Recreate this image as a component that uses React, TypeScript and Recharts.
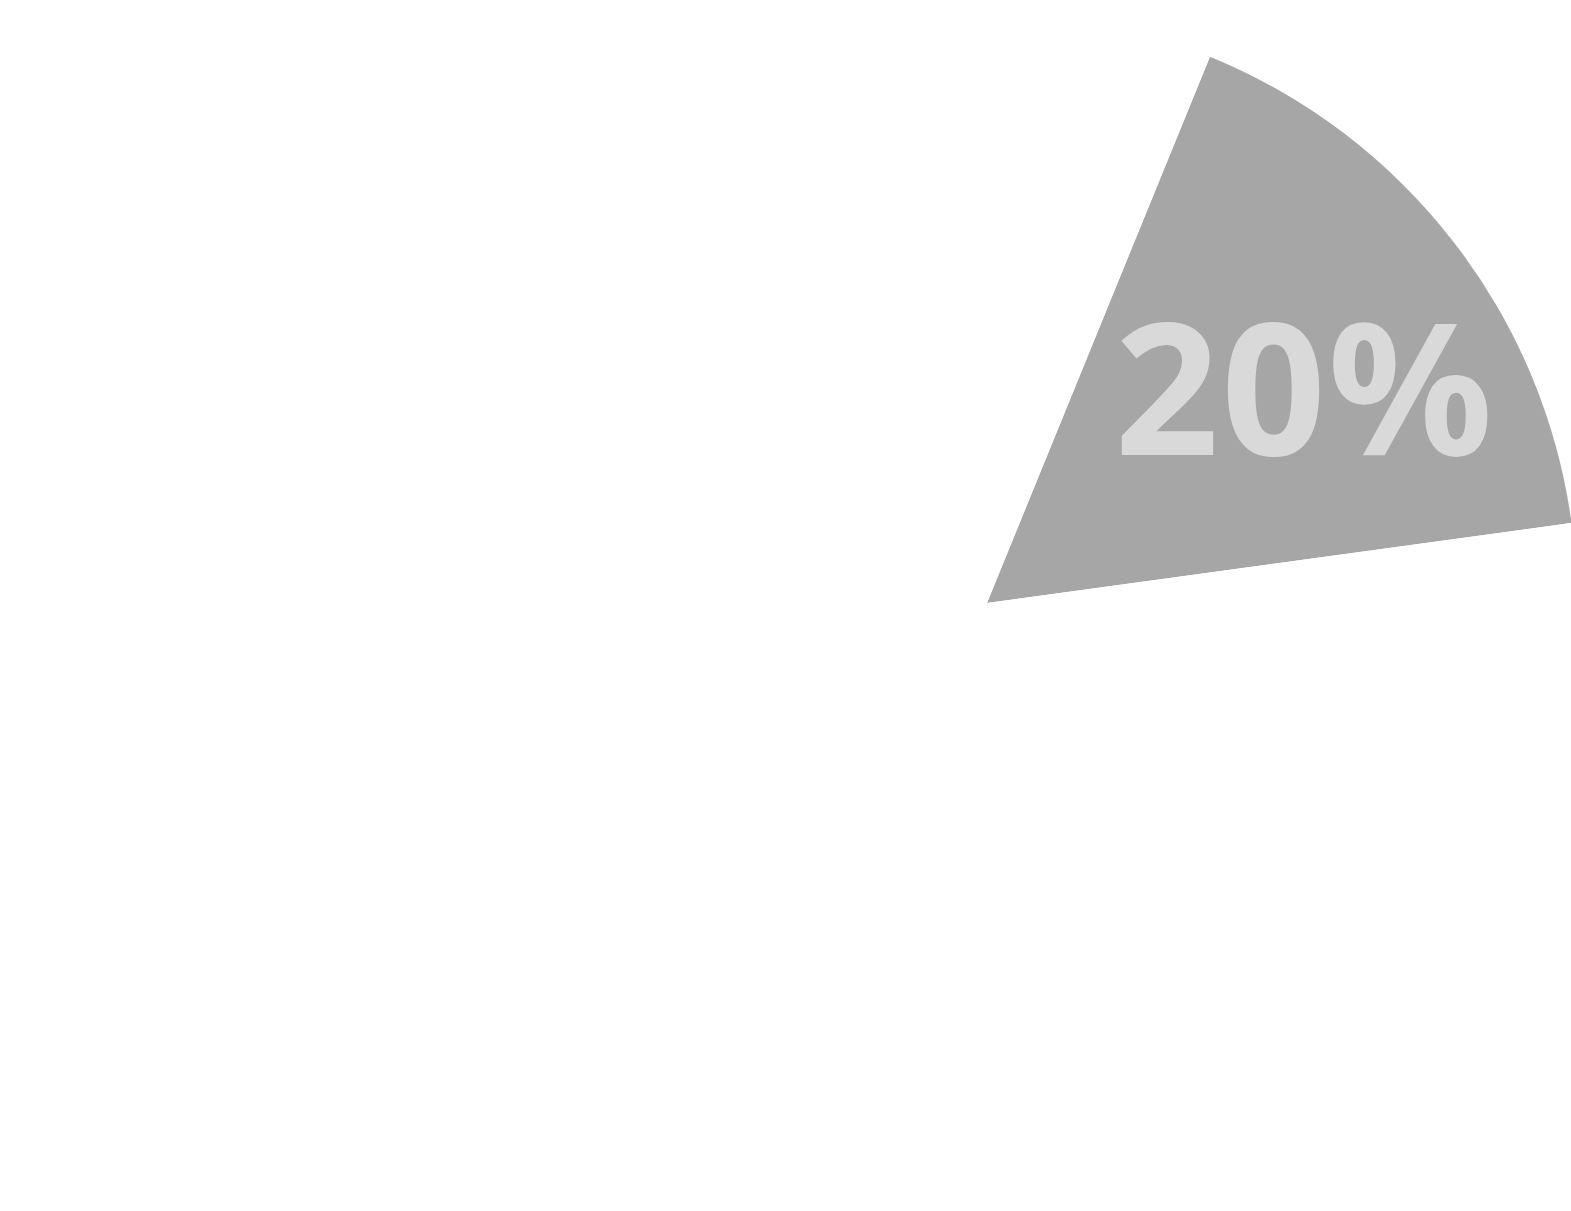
import { PieChart, Pie, Cell } from "recharts";

// slice values: the highlighted share and the (hidden) remainder
const sliceNames = ["highlight", "rest"];
const sliceValues = [20, 100];
const sliceColors = ["#a6a6a6", "#ffffff"];
const labelTexts = ["20%", ""];

const data = sliceNames.map((name, i) => ({ name, value: sliceValues[i] }));

const RADIAN = Math.PI / 180;

function renderLabel(props: any) {
    const { cx, cy, midAngle, outerRadius, index } = props;
    if (!labelTexts[index]) return null;
    const r = outerRadius * 0.645;
    const x = cx + r * Math.cos(-midAngle * RADIAN) + 17;
    const y = cy + r * Math.sin(-midAngle * RADIAN) + 14;
    return (
        <text
            x={x}
            y={y}
            fill="#d9d9d9"
            textAnchor="middle"
            dominantBaseline="central"
            fontFamily="'Noto Sans', 'Open Sans', sans-serif"
            fontWeight="bold"
            fontSize={183}
            letterSpacing={2}
        >
            {labelTexts[index]}
        </text>
    );
}

export default function App() {
    return (
        <div style={{ position: "absolute", left: 0, top: 0, width: 1571, height: 1211, background: "#fff" }}>
            <PieChart width={1571} height={1211} margin={{ top: 0, right: 0, bottom: 0, left: 0 }}>
                <Pie
                    data={data}
                    dataKey="value"
                    cx={987}
                    cy={603}
                    outerRadius={590}
                    startAngle={67.8}
                    endAngle={67.8 - 360}
                    stroke="none"
                    label={renderLabel}
                    labelLine={false}
                    isAnimationActive={false}
                >
                    {data.map((d, i) => (
                        <Cell key={`cell-${i}`} fill={sliceColors[i]} />
                    ))}
                </Pie>
            </PieChart>
        </div>
    );
}
